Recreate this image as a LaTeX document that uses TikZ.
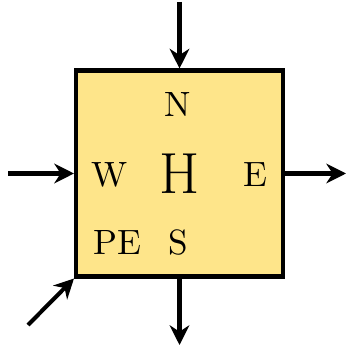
\documentclass[tikz,border=0pt]{standalone}
\usetikzlibrary{arrows.meta}
\definecolor{boxfill}{RGB}{254,229,138}
\begin{document}
\begin{tikzpicture}[x=0.2846pt,y=-0.2846pt,
  flow/.style={line width=1.15pt,-{Stealth[length=5.6pt,width=5.6pt,inset=1.8pt]}},
  lbl/.style={inner sep=0pt,anchor=center,font=\normalsize}]
\useasboundingbox (0,0) rectangle (346,348);
\node[draw,line width=1.15pt,fill=boxfill,minimum width=207*0.2846pt,minimum height=206*0.2846pt,inner sep=0pt] (box) at (179.5,173.5) {};
\node[lbl] (n) at (178,105) {N};
\node[lbl] (w) at (110,175) {W};
\node[lbl,font=\fontsize{16.5}{18}\selectfont] (h) at (179.5,174) {H};
\node[lbl] (e) at (255,175) {E};
\node[lbl] (pe) at (117.5,243) {PE};
\node[lbl] (s) at (178,243) {S};
\coordinate (tin) at (179.5,2);
\coordinate (lin) at (8,173.5);
\coordinate (rout) at (346,173.5);
\coordinate (bout) at (179.5,345);
\coordinate (din) at (28,325);
\draw[flow] (tin) -- (box.north);
\draw[flow] (lin) -- (box.west);
\draw[flow] (box.east) -- (rout);
\draw[flow] (box.south) -- (bout);
\draw[flow] (din) -- (box.south west);
\end{tikzpicture}
\end{document}
